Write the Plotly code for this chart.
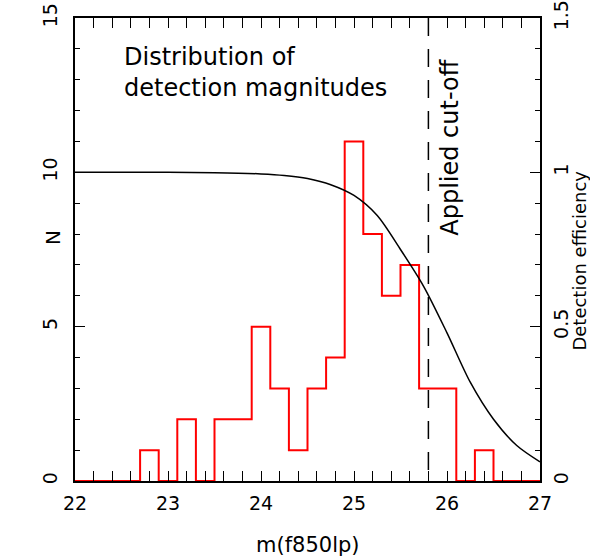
import plotly.graph_objects as go

# Histogram of detection magnitudes (bin lower edges, width 0.2)
bin_lo = [21.9, 22.1, 22.3, 22.5, 22.7, 22.9, 23.1, 23.3, 23.5, 23.7, 23.9, 24.1, 24.3,
          24.5, 24.7, 24.9, 25.1, 25.3, 25.5, 25.7, 25.9, 26.1, 26.3, 26.5, 26.7, 26.9]
counts = [0, 0, 0, 0, 1, 0, 2, 0, 2, 2, 5, 3, 1,
          3, 4, 11, 8, 6, 7, 3, 3, 0, 1, 0, 0, 0]
bin_width = 0.2

# Detection efficiency curve (right axis)
eff_m = [22.0, 22.5, 23.0, 23.5, 24.0, 24.25, 24.5, 24.75, 25.0, 25.25, 25.5,
         25.75, 26.0, 26.25, 26.5, 26.75, 27.0]
eff = [1.0, 1.0, 1.0, 0.999, 0.995, 0.99, 0.98, 0.96, 0.925, 0.86, 0.75,
       0.63, 0.48, 0.32, 0.20, 0.115, 0.062]

cutoff = 25.8

FONT = "DejaVu Sans"

# step outline
hx = list(bin_lo) + [bin_lo[-1] + bin_width]
hy = list(counts) + [counts[-1]]

fig = go.Figure()
fig.add_trace(go.Scatter(x=hx, y=hy, mode="lines", line=dict(color="#ff0000", width=2, shape="hv"),
                         showlegend=False, hoverinfo="skip"))
fig.add_trace(go.Scatter(x=eff_m, y=eff, mode="lines", yaxis="y2",
                         line=dict(color="black", width=1.5, shape="spline", smoothing=0.8),
                         showlegend=False, hoverinfo="skip"))

fig.add_shape(type="line", xref="x", yref="paper", x0=cutoff, x1=cutoff, y0=1, y1=0,
              line=dict(color="black", width=1.5, dash="18px,13px"))

axis_common = dict(showline=True, linecolor="black", linewidth=1.5, ticks="inside",
                   tickcolor="black", tickwidth=1.2, showgrid=False, zeroline=False,
                   automargin=False,
                   tickfont=dict(family=FONT, size=19, color="black"))

fig.update_layout(
    width=590, height=560,
    margin=dict(l=75, r=50, t=18, b=79),
    paper_bgcolor="white", plot_bgcolor="white",
    xaxis=dict(range=[22, 27], tick0=22, dtick=1, ticklen=10, mirror="allticks",
               minor=dict(dtick=0.2, ticks="inside", ticklen=5, tickcolor="black", tickwidth=1.2),
               ticklabelstandoff=4, **axis_common),
    yaxis=dict(range=[0, 15], tick0=0, dtick=5, ticklen=10, tickangle=-90, mirror=True,
               ticklabelstandoff=9,
               minor=dict(dtick=1, ticks="inside", ticklen=5, tickcolor="black", tickwidth=1.2),
               **axis_common),
    yaxis2=dict(range=[0, 1.5], tick0=0, dtick=0.5, ticklen=10, tickangle=-90, side="right",
                overlaying="y", ticklabelstandoff=3,
                minor=dict(dtick=0.1, ticks="inside", ticklen=5, tickcolor="black", tickwidth=1.2),
                **axis_common),
    annotations=[
        dict(text="m(f850lp)", xref="paper", yref="paper", x=0.5, y=-0.138, showarrow=False,
             xanchor="center", yanchor="middle", font=dict(family=FONT, size=21, color="black")),
        dict(text="N", xref="paper", yref="paper", x=-0.047, y=0.525, showarrow=False, textangle=-90,
             xanchor="center", yanchor="middle", font=dict(family=FONT, size=20, color="black")),
        dict(text="Detection efficiency", xref="paper", yref="paper", x=1.085, y=0.475, showarrow=False,
             textangle=-90, xanchor="center", yanchor="middle",
             font=dict(family=FONT, size=18, color="black")),
        dict(text="Distribution of<br>detection magnitudes", xref="x", yref="y", x=22.50, y=13.25,
             showarrow=False, xanchor="left", yanchor="middle", align="left",
             font=dict(family=FONT, size=24, color="black")),
        dict(text="Applied cut-off", xref="x", yref="y", x=26.03, y=10.79, showarrow=False,
             textangle=-90, xanchor="center", yanchor="middle",
             font=dict(family=FONT, size=24, color="black")),
    ],
)

fig.write_html("out.html", config={"displayModeBar": False},
               post_script="document.body.style.margin='0';")
